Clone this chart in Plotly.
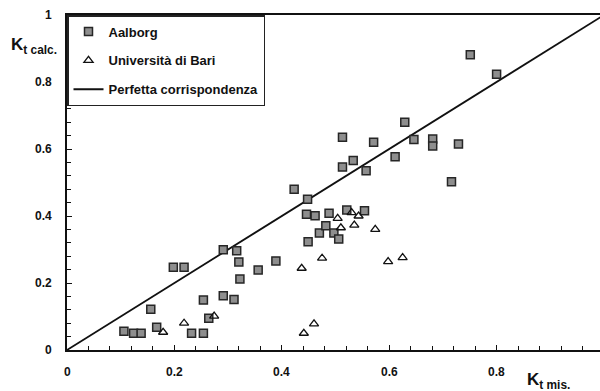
import plotly.graph_objects as go

# Aalborg: measured vs calculated Kt
aalborg_mis = [0.106, 0.124, 0.138, 0.156, 0.167, 0.198, 0.218, 0.232, 0.254, 0.254,
               0.264, 0.291, 0.291, 0.311, 0.316, 0.320, 0.322, 0.356, 0.389, 0.423,
               0.448, 0.446, 0.449, 0.462, 0.470, 0.482, 0.488, 0.497, 0.506, 0.513,
               0.513, 0.521, 0.533, 0.554, 0.557, 0.571, 0.611, 0.629, 0.646, 0.681,
               0.681, 0.716, 0.729, 0.751, 0.800]
aalborg_calc = [0.056, 0.050, 0.050, 0.122, 0.068, 0.247, 0.247, 0.050, 0.050, 0.149,
                0.095, 0.299, 0.162, 0.151, 0.296, 0.263, 0.212, 0.239, 0.266, 0.480,
                0.450, 0.405, 0.323, 0.401, 0.349, 0.371, 0.408, 0.349, 0.331, 0.635,
                0.546, 0.418, 0.566, 0.416, 0.535, 0.620, 0.577, 0.680, 0.628, 0.630,
                0.609, 0.502, 0.615, 0.881, 0.823]

# Università di Bari: measured vs calculated Kt
bari_mis = [0.179, 0.218, 0.274, 0.437, 0.441, 0.460, 0.475, 0.504, 0.510, 0.530,
            0.535, 0.543, 0.574, 0.598, 0.625]
bari_calc = [0.053, 0.080, 0.101, 0.244, 0.050, 0.078, 0.274, 0.393, 0.365, 0.410,
             0.373, 0.400, 0.360, 0.264, 0.276]

# Perfect agreement line
ideal = [0, 1]

# Tick labels
x_tick_vals = [0, 0.2, 0.4, 0.6, 0.8]
x_tick_text = ["0", "0.2", "0.4", "0.6", "0.8"]
y_tick_vals = [0, 0.2, 0.4, 0.6, 0.8, 1]
y_tick_text = ["0", "0.2", "0.4", "0.6", "0.8", "1"]

FONT = "Arial, Liberation Sans, sans-serif"
CLEAR = "rgba(0,0,0,0)"
LABEL_FONT = dict(family=FONT, size=12, weight="bold", color="#111111")

fig = go.Figure()

fig.add_trace(go.Scatter(
    x=ideal, y=ideal, mode="lines", name="Perfetta corrispondenza",
    line=dict(color="#111111", width=1.8), legendgroup="c", legendrank=3,
))
fig.add_trace(go.Scatter(
    x=aalborg_mis, y=aalborg_calc, mode="markers", name="Aalborg",
    marker=dict(symbol="square", size=8, color="#8e8e8e",
                line=dict(color="#262626", width=1.5)),
    legendgroup="a", legendrank=1,
))
fig.add_trace(go.Scatter(
    x=bari_mis, y=bari_calc, mode="markers", name="Università di Bari",
    marker=dict(symbol="triangle-up-open", size=8, color="#111111",
                line=dict(color="#111111", width=1.3)),
    legendgroup="b", legendrank=2,
))

# axes carry the lines and inside tick marks; the numbers are set further out below
axis_common = dict(
    showgrid=False, zeroline=False, showline=True, linecolor="#111111",
    ticks="inside", ticklen=5, tickwidth=1.4, tickcolor="#111111",
    tickmode="linear", tick0=0, dtick=0.2, showticklabels=True,
    tickfont=dict(family=FONT, size=12, color=CLEAR),
    minor=dict(tick0=0, dtick=0.04, ticks="inside", ticklen=4,
               tickwidth=1.3, tickcolor="#111111"),
)

annotations = []
for v, t in zip(x_tick_vals, x_tick_text):
    annotations.append(dict(
        text=t, x=v, xref="x", y=0, yref="y", yshift=-22,
        xanchor="center", yanchor="middle", showarrow=False, font=LABEL_FONT,
    ))
for v, t in zip(y_tick_vals, y_tick_text):
    annotations.append(dict(
        text=t, x=0, xref="x", y=v, yref="y", xshift=-13,
        xanchor="right", yanchor="middle", showarrow=False, font=LABEL_FONT,
    ))
annotations += [
    dict(text="K<sub>t calc.</sub>", xref="paper", yref="paper",
         x=(9 - 67) / 533, y=(350 - 46) / 335, xanchor="left", yanchor="middle",
         showarrow=False, font=dict(family=FONT, size=17, weight="bold")),
    dict(text="K<sub>t mis.</sub>", xref="paper", yref="paper",
         x=(525 - 67) / 533, y=(350 - 381) / 335, xanchor="left", yanchor="middle",
         showarrow=False, font=dict(family=FONT, size=17, weight="bold")),
]

fig.update_layout(
    width=600, height=391,
    margin=dict(l=67, r=0, t=15, b=41),
    paper_bgcolor="white", plot_bgcolor="white",
    font=dict(family=FONT, size=12, color="#111111"),
    showlegend=True,
    legend=dict(
        x=0, y=1, xanchor="left", yanchor="top",
        bordercolor="#222222", borderwidth=1.5, bgcolor="white",
        font=dict(family=FONT, size=13, color="#111111", weight="bold"),
        tracegroupgap=9, traceorder="grouped",
        itemwidth=30,
    ),
    xaxis=dict(range=[0, 533 / 537], linewidth=1.5, mirror=True, **axis_common),
    yaxis=dict(range=[0, 1], linewidth=2, **axis_common),
    annotations=annotations,
)

fig.write_html("out.html")
